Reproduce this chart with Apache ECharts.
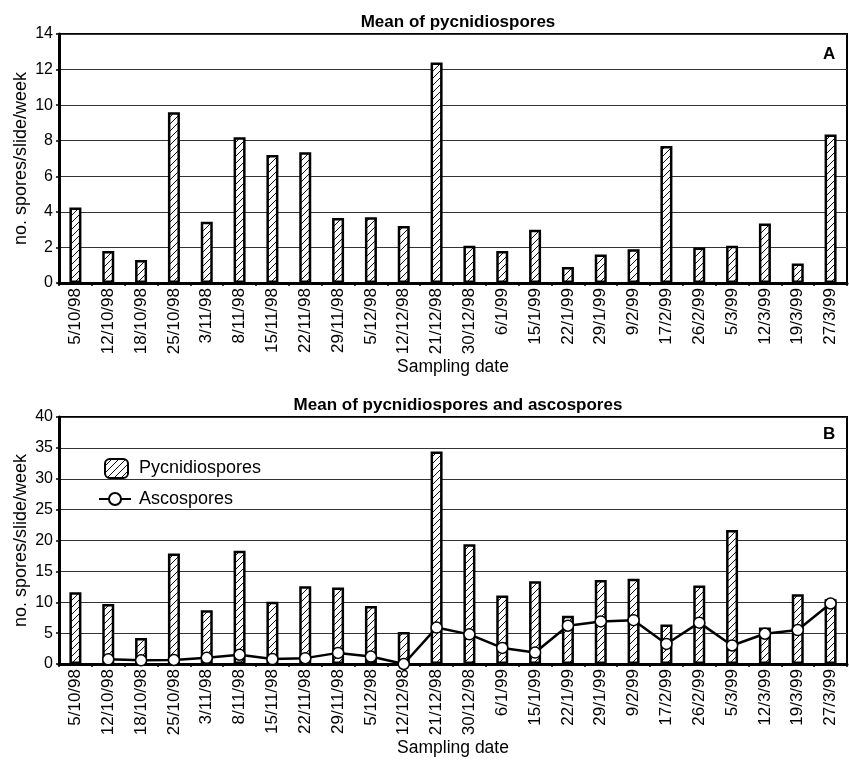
<!DOCTYPE html>
<html>
<head>
<meta charset="utf-8">
<script src="https://cdn.jsdelivr.net/npm/echarts@6/dist/echarts.min.js"></script>
<style>
  html, body { margin: 0; padding: 0; background: #fff; }
  #chart { width: 849px; height: 761px; }
</style>
</head>
<body>
<div id="chart"></div>
<script>
// Sampling dates (weekly slides)
const dates = ['5/10/98','12/10/98','18/10/98','25/10/98','3/11/98','8/11/98','15/11/98','22/11/98',
  '29/11/98','5/12/98','12/12/98','21/12/98','30/12/98','6/1/99','15/1/99','22/1/99','29/1/99',
  '9/2/99','17/2/99','26/2/99','5/3/99','12/3/99','19/3/99','27/3/99'];

// Panel A: mean pycnidiospores
const pycnidA = [4.25, 1.8, 1.3, 9.6, 3.45, 8.2, 7.2, 7.35, 3.65, 3.7, 3.2, 12.4,
  2.1, 1.8, 3.0, 0.9, 1.6, 1.9, 7.7, 2.0, 2.1, 3.35, 1.1, 8.35];

// Panel B: pycnidiospores and ascospores
const pycnidB = [11.6, 9.7, 4.2, 17.9, 8.7, 18.35, 10.1, 12.6, 12.4, 9.4, 5.2, 34.4,
  19.4, 11.1, 13.4, 7.8, 13.6, 13.8, 6.4, 12.7, 21.7, 5.9, 11.3, 10.5];
const ascos = [null, 0.75, 0.6, 0.65, 1.0, 1.5, 0.8, 0.95, 1.8, 1.2, 0, 5.9,
  4.8, 2.6, 1.85, 6.2, 6.9, 7.1, 3.25, 6.7, 3.0, 4.9, 5.5, 9.8];

const ticksA = { min: 0, max: 14, interval: 2 };
const ticksB = { min: 0, max: 40, interval: 5 };

// diagonal hatch tile for the bars
function hatchTile() {
  const c = document.createElement('canvas');
  c.width = 7; c.height = 7;
  const g = c.getContext('2d');
  g.fillStyle = '#fff';
  g.fillRect(0, 0, 7, 7);
  g.strokeStyle = '#111';
  g.lineWidth = 1;
  g.beginPath();
  g.moveTo(-1, 8); g.lineTo(8, -1);
  g.stroke();
  return c;
}
const hatch = { image: hatchTile(), repeat: 'repeat' };

const FONT = '"Liberation Sans", Arial, sans-serif';

function xAxis(gridIndex) {
  return {
    type: 'category', gridIndex, data: dates,
    name: 'Sampling date', nameLocation: 'middle', nameGap: 75, nameMoveOverlap: false,
    nameTextStyle: { fontFamily: FONT, fontSize: 17.5, color: '#000' },
    axisLine: { lineStyle: { color: '#000', width: 3 } },
    axisTick: { show: true, length: 3, lineStyle: { color: '#000', width: 1.5 } },
    axisLabel: { rotate: 90, interval: 0, margin: 5, fontFamily: FONT, fontSize: 17, color: '#000' },
    splitLine: { show: false }
  };
}
function yAxis(gridIndex, t) {
  return {
    type: 'value', gridIndex, min: t.min, max: t.max, interval: t.interval,
    name: 'no. spores/slide/week', nameLocation: 'middle', nameGap: 29, nameMoveOverlap: false,
    nameTextStyle: { fontFamily: FONT, fontSize: 18, color: '#000' },
    axisLine: { show: true, lineStyle: { color: '#000', width: 3 } },
    axisTick: { show: true, length: 3, lineStyle: { color: '#000', width: 1.5 } },
    axisLabel: { margin: 6, fontFamily: FONT, fontSize: 16, color: '#000' },
    splitLine: { show: true, lineStyle: { color: '#333', width: 1 } }
  };
}

const barStyle = { color: hatch, borderColor: '#000', borderWidth: 2.5 };

const chart = echarts.init(document.getElementById('chart'), null, { renderer: 'canvas' });
chart.setOption({
  animation: false,
  backgroundColor: '#fff',
  title: [
    { text: 'Mean of pycnidiospores', left: 453, top: 9, textAlign: 'center',
      textStyle: { fontFamily: FONT, fontWeight: 'bold', fontSize: 17, color: '#000' } },
    { text: 'Mean of pycnidiospores and ascospores', left: 453, top: 392, textAlign: 'center',
      textStyle: { fontFamily: FONT, fontWeight: 'bold', fontSize: 17, color: '#000' } }
  ],
  grid: [
    { left: 59, right: 2, top: 34, height: 249, show: true, borderColor: '#000', borderWidth: 2,
      containLabel: false, outerBoundsMode: 'none' },
    { left: 59, right: 2, top: 417, height: 247, show: true, borderColor: '#000', borderWidth: 2,
      containLabel: false, outerBoundsMode: 'none' }
  ],
  xAxis: [xAxis(0), xAxis(1)],
  yAxis: [yAxis(0, ticksA), yAxis(1, ticksB)],
  legend: [
    { data: ['Pycnidiospores'], left: 99, top: 453, itemWidth: 23, itemHeight: 19,
      textStyle: { fontFamily: FONT, fontSize: 18, color: '#000', padding: [0, 0, 0, 6] } },
    { data: ['Ascospores'], left: 93, top: 485, itemWidth: 32, itemHeight: 15,
      textStyle: { fontFamily: FONT, fontSize: 18, color: '#000', padding: [0, 0, 0, 3] } }
  ],
  graphic: [
    { type: 'text', left: 823, top: 46, style: { text: 'A', font: 'bold 17px ' + FONT, fill: '#000' } },
    { type: 'text', left: 823, top: 426, style: { text: 'B', font: 'bold 17px ' + FONT, fill: '#000' } }
  ],
  series: [
    { name: 'Pycnidiospores A', type: 'bar', xAxisIndex: 0, yAxisIndex: 0, data: pycnidA,
      barWidth: 12, itemStyle: barStyle },
    { name: 'Pycnidiospores', type: 'bar', xAxisIndex: 1, yAxisIndex: 1, data: pycnidB,
      barWidth: 12, itemStyle: barStyle },
    { name: 'Ascospores', type: 'line', xAxisIndex: 1, yAxisIndex: 1, data: ascos,
      symbol: 'circle', symbolSize: 11, showAllSymbol: true, connectNulls: false,
      lineStyle: { color: '#000', width: 2.5 },
      itemStyle: { color: '#fff', borderColor: '#000', borderWidth: 1.5 }, z: 3 }
  ]
});
</script>
</body>
</html>
